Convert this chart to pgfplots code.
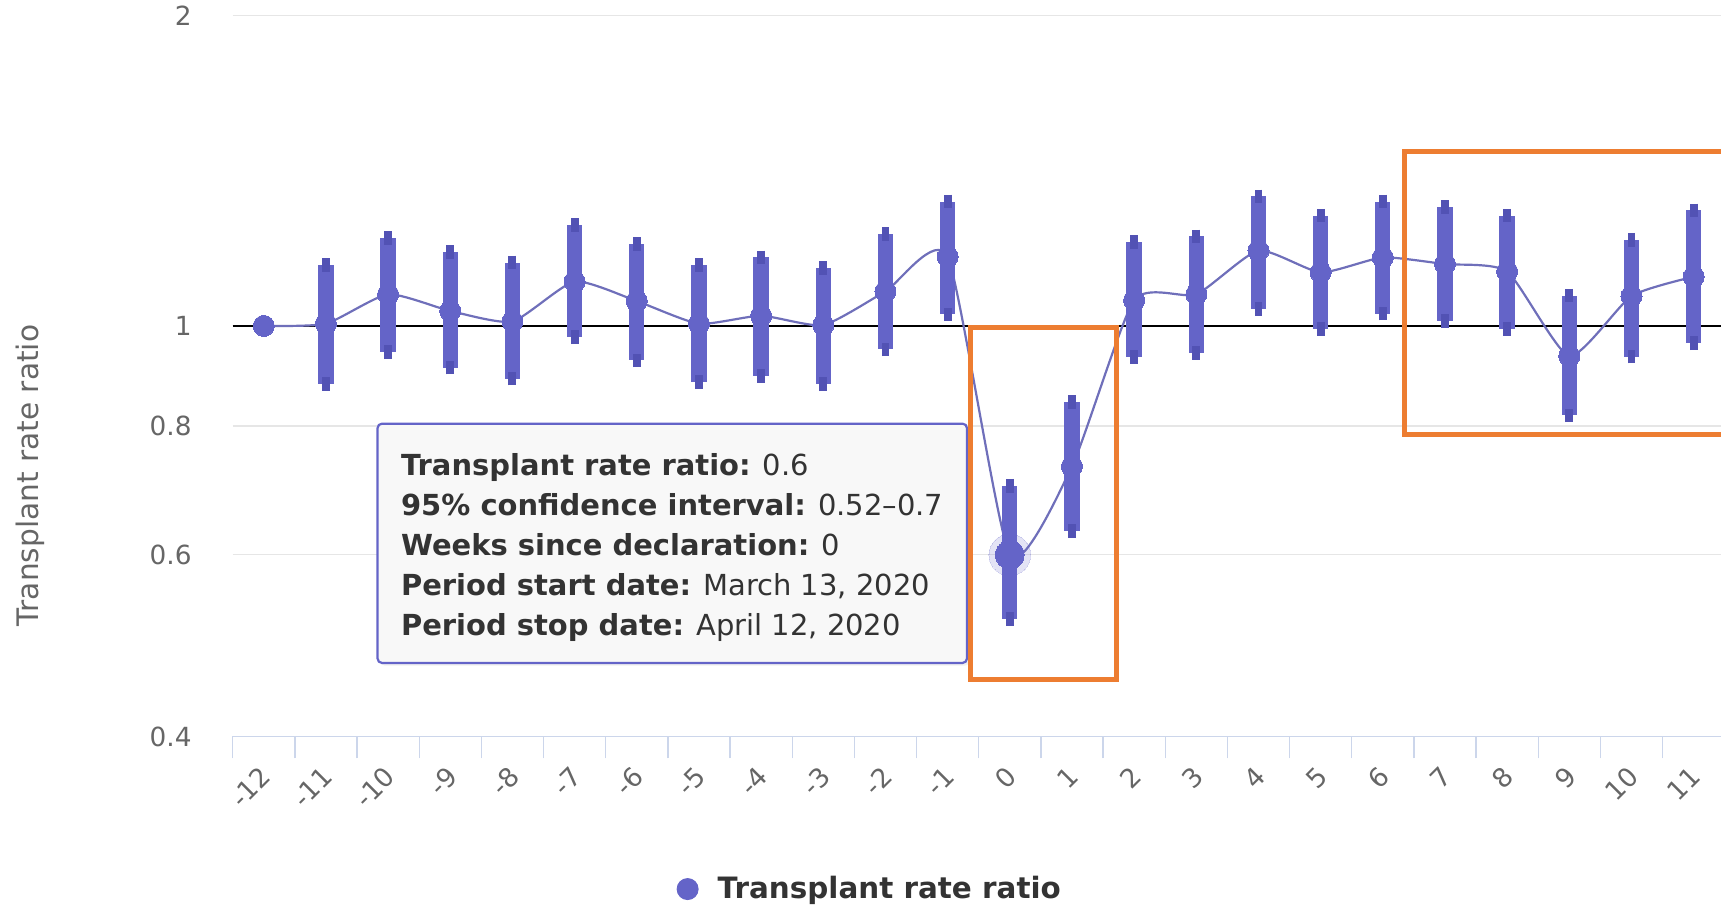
\documentclass[border=0pt]{standalone}
\usepackage{fontspec}
\setmainfont{DejaVu Sans}
\usepackage{pgfplots}
\usepackage{pgfplotstable}
\pgfplotsset{compat=1.18}
\usetikzlibrary{shadows}

\definecolor{tblue}{HTML}{6464C8}
\definecolor{tcap}{HTML}{5252B4}
\definecolor{tline}{HTML}{6F6FBA}
\definecolor{orng}{HTML}{ED7D31}
\definecolor{gridc}{HTML}{E6E6E6}
\definecolor{axisc}{HTML}{CCD6EB}
\definecolor{lblc}{HTML}{666666}
\definecolor{txtc}{HTML}{333333}
\definecolor{tipfill}{HTML}{F8F8F8}

% weeks since declaration, rate ratio, 95% CI
\pgfplotstableread{
x   y     lo    hi
-12 1.000 1.000 1.000
-11 1.005 0.879 1.145
-10 1.073 0.943 1.216
-9  1.034 0.911 1.179
-8  1.010 0.889 1.152
-7  1.104 0.975 1.252
-6  1.057 0.926 1.200
-5  1.005 0.882 1.145
-4  1.023 0.894 1.165
-3  1.002 0.878 1.138
-2  1.080 0.949 1.227
-1  1.167 1.026 1.320
0   0.600 0.520 0.700
1   0.731 0.633 0.844
2   1.059 0.933 1.206
3   1.073 0.941 1.221
4   1.183 1.039 1.335
5   1.127 0.993 1.279
6   1.165 1.028 1.320
7   1.148 1.011 1.304
8   1.129 0.993 1.279
9   0.935 0.819 1.070
10  1.069 0.934 1.212
11  1.116 0.962 1.294
}\ratio

\begin{document}
\begin{tikzpicture}
\useasboundingbox (-106pt,-77.5pt) rectangle (678pt,335.5pt);
\begin{axis}[
  scale only axis,
  width=678pt, height=328.5pt,
  xmin=-12.5, xmax=11.44,
  ymode=log, ymin=0.4, ymax=2,
  axis x line*=bottom, axis y line*=left,
  x axis line style={draw=axisc, line width=0.6pt},
  y axis line style={draw=none},
  xtick={-12,-11,...,11},
  xticklabels={-12,-11,-10,-9,-8,-7,-6,-5,-4,-3,-2,-1,0,1,2,3,4,5,6,7,8,9,10,11},
  minor xtick={-12.5,-11.5,...,11.5},
  ytick={0.4,0.6,0.8,1,2},
  yticklabels={0.4,0.6,0.8,1,2},
  major tick length=0pt, minor tick length=10pt, tick align=outside,
  xtick style={draw=axisc, line width=0.6pt},
  ytick style={draw=none},
  ymajorgrids,
  major grid style={draw=gridc, line width=0.6pt},
  xticklabel style={yshift=-16pt, xshift=1pt, rotate=45, anchor=east, inner sep=0pt,
    font=\fontsize{12}{14}\selectfont, text=lblc},
  yticklabel style={anchor=east, inner sep=0pt, xshift=-18.5pt,
    font=\fontsize{12}{14}\selectfont, text=lblc},
  ylabel={Transplant rate ratio},
  ylabel style={at={(axis description cs:-0.136,0.362)}, anchor=center,
    font=\fontsize{13.5}{16}\selectfont, text=lblc},
  legend style={draw=none, fill=none, at={(axis description cs:0.298,-0.2116)},
    anchor=west, inner sep=0pt, font=\bfseries\fontsize{13.4}{16}\selectfont,
    text=txtc},
  legend image code/.code={\fill[tblue] (0pt,0pt) circle (4.8pt); \path (11.5pt,0pt);},
]
% reference line at ratio 1
\addplot[black, line width=1.1pt, forget plot] coordinates {(-12.5,1) (11.44,1)};
% spline through the ratios
\addplot[tline, line width=1pt, smooth, tension=0.35, forget plot]
  table[x=x, y=y] {\ratio};
% confidence intervals
\addplot[draw=none, mark=none, forget plot,
  skip coords between index={0}{1},
  error bars/.cd, y dir=both, y explicit,
  error bar style={draw=tblue, line width=7pt},
  error mark options={draw=tcap, line width=3.6pt, mark size=3.1pt}]
  table[x=x, y=y, y error plus expr=\thisrow{hi}-\thisrow{y},
        y error minus expr=\thisrow{y}-\thisrow{lo}] {\ratio};
% points
\addplot[color=tblue, only marks, mark=*, mark size=4.8pt,
  mark options={draw=tblue, fill=tblue, line width=0pt}]
  table[x=x, y=y] {\ratio};
\addlegendentry{Transplant rate ratio}
% hovered point
\addplot[color=tblue, only marks, mark=*, mark size=9.5pt, forget plot,
  mark options={draw=tblue, fill=tblue, line width=0pt, opacity=0.18}] coordinates {(0,0.6)};
\addplot[color=tblue, only marks, mark=*, mark size=6.5pt, forget plot,
  mark options={draw=tblue, fill=tblue, line width=0pt}] coordinates {(0,0.6)};
\end{axis}

% tooltip
\path[draw=tblue, line width=1pt, fill=tipfill, rounded corners=2pt,
  drop shadow={shadow xshift=1.2pt, shadow yshift=-1.2pt, opacity=0.12}]
  (66pt,33.5pt) rectangle (334.5pt,142.5pt);
\begin{scope}[every node/.style={anchor=base west, inner sep=0pt, text=txtc,
    font=\fontsize{13.2}{16}\selectfont}]
\node at (76.5pt,119.1pt) {\textbf{Transplant rate ratio:} 0.6};
\node at (76.5pt,100.6pt) {\textbf{95\% confidence interval:} 0.52–0.7};
\node at (76.5pt,82.4pt) {\textbf{Weeks since declaration:} 0};
\node at (76.5pt,64.2pt) {\textbf{Period start date:} March 13, 2020};
\node at (76.5pt,46.0pt) {\textbf{Period stop date:} April 12, 2020};
\end{scope}

% highlight boxes
\draw[orng, line width=2.3pt] (336pt,26pt) rectangle (402.5pt,186.5pt);
\draw[orng, line width=2.3pt] (534pt,137.4pt) rectangle (710pt,266.5pt);
\end{tikzpicture}
\end{document}
